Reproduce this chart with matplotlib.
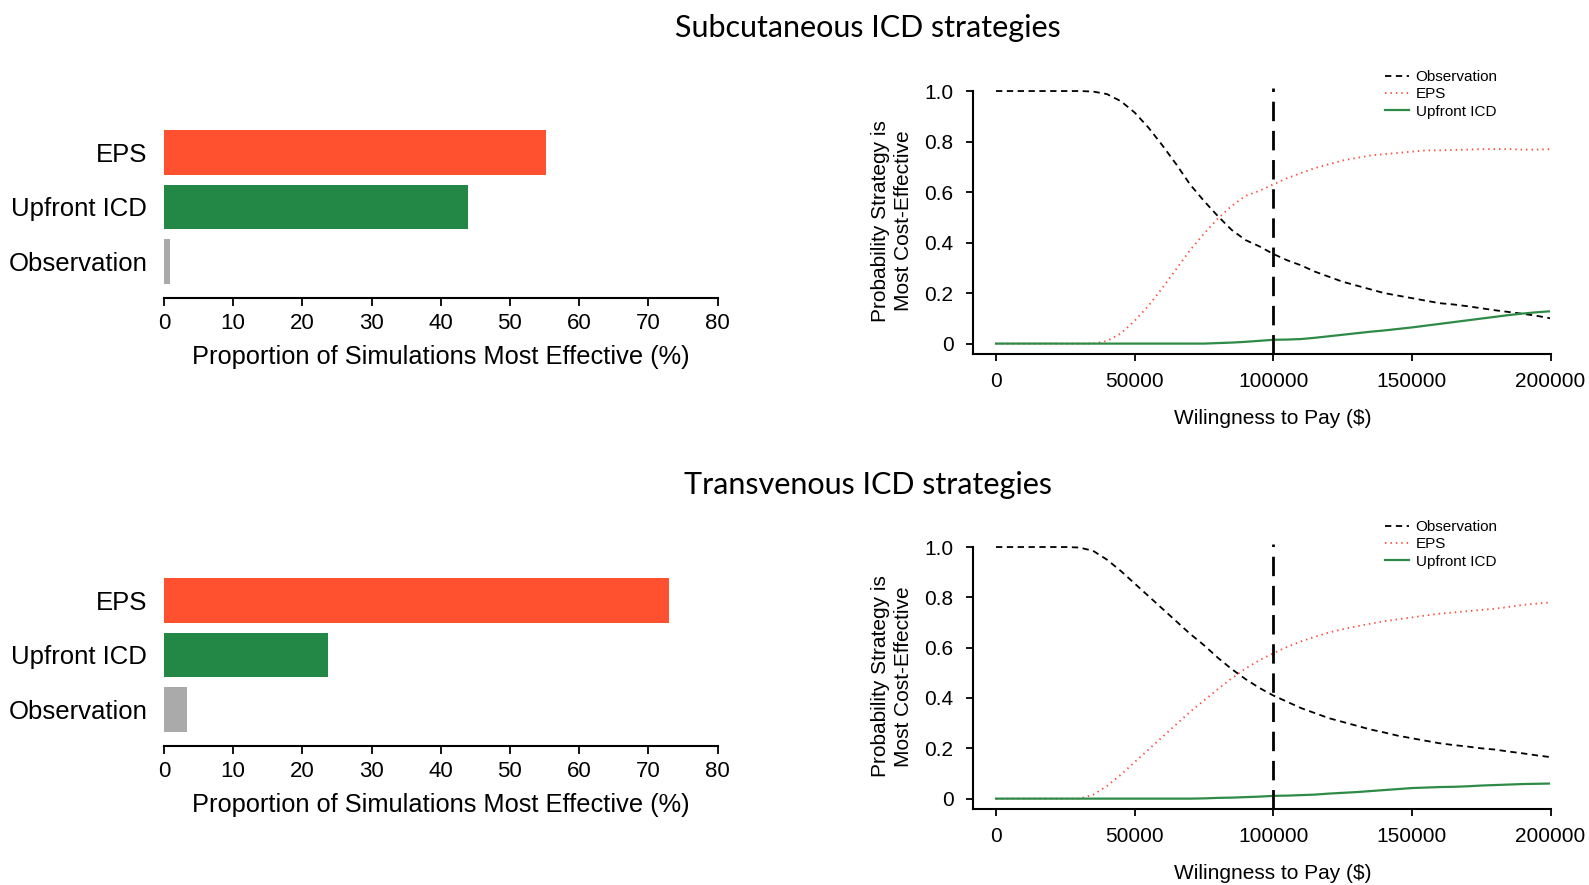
import matplotlib
matplotlib.use("Agg")
import matplotlib.pyplot as plt

W, H = 1589, 885
NARROW = ["Liberation Sans Narrow", "Liberation Sans", "DejaVu Sans"]
ARIAL = ["Liberation Sans", "DejaVu Sans"]
TITLE_FONT = ["Lato", "DejaVu Sans"]

# --- bar data: share of simulations where each strategy is most effective (%) ---
STRATEGIES = ["EPS", "Upfront ICD", "Observation"]
BAR_COLORS = ["#FF5030", "#238845", "#AAAAAA"]
SUBQ_PCT = [55.2, 43.9, 0.9]
TV_PCT = [73.0, 23.7, 3.3]

# --- acceptability curves ---
WTP = list(range(0, 200001, 5000))

SUBQ_OBS = [1.0, 1.0, 1.0, 1.0, 1.0, 1.0, 1.0, 0.998, 0.988, 0.96,
            0.915, 0.855, 0.785, 0.71, 0.63, 0.565, 0.505, 0.45, 0.41, 0.385,
            0.355, 0.33, 0.31, 0.285, 0.265, 0.245, 0.23, 0.215, 0.20, 0.19,
            0.18, 0.17, 0.16, 0.155, 0.148, 0.14, 0.132, 0.125, 0.118, 0.11,
            0.10]
SUBQ_EPS = [0, 0, 0, 0, 0, 0, 0, 0, 0.01, 0.04,
            0.09, 0.15, 0.22, 0.295, 0.37, 0.435, 0.495, 0.545, 0.585, 0.605,
            0.63, 0.655, 0.675, 0.695, 0.71, 0.725, 0.735, 0.745, 0.75, 0.755,
            0.76, 0.765, 0.765, 0.767, 0.768, 0.77, 0.77, 0.77, 0.768, 0.768,
            0.77]
SUBQ_ICD = [0, 0, 0, 0, 0, 0, 0, 0, 0, 0,
            0, 0, 0, 0, 0, 0, 0.002, 0.004, 0.007, 0.011,
            0.015, 0.016, 0.018, 0.023, 0.029, 0.035, 0.041, 0.047, 0.052, 0.058,
            0.064, 0.071, 0.078, 0.085, 0.092, 0.099, 0.106, 0.113, 0.119, 0.124,
            0.128]

TV_OBS = [1.0, 1.0, 1.0, 1.0, 1.0, 1.0, 0.998, 0.985, 0.95, 0.905,
          0.855, 0.805, 0.755, 0.705, 0.655, 0.61, 0.56, 0.515, 0.475, 0.44,
          0.41, 0.385, 0.36, 0.34, 0.32, 0.305, 0.29, 0.275, 0.263, 0.25,
          0.24, 0.23, 0.22, 0.213, 0.207, 0.20, 0.195, 0.187, 0.18, 0.172,
          0.165]
TV_EPS = [0, 0, 0, 0, 0, 0, 0, 0.015, 0.05, 0.095,
          0.145, 0.195, 0.245, 0.295, 0.345, 0.39, 0.435, 0.478, 0.517, 0.55,
          0.578, 0.603, 0.625, 0.643, 0.66, 0.673, 0.685, 0.695, 0.705, 0.713,
          0.72, 0.728, 0.735, 0.74, 0.745, 0.75, 0.755, 0.762, 0.77, 0.775,
          0.78]
TV_ICD = [0, 0, 0, 0, 0, 0, 0, 0, 0, 0,
          0, 0, 0, 0, 0, 0.001, 0.003, 0.004, 0.006, 0.008,
          0.011, 0.012, 0.014, 0.016, 0.02, 0.023, 0.026, 0.03, 0.034, 0.038,
          0.042, 0.044, 0.046, 0.047, 0.049, 0.052, 0.054, 0.056, 0.058, 0.059,
          0.06]

THRESHOLD = 100000


def px_axes(fig, left, top, right, bottom):
    return fig.add_axes([left / W, 1 - bottom / H, (right - left) / W, (bottom - top) / H])


def bar_panel(ax, values):
    ypos = [2, 1, 0]
    ax.barh(ypos, values, height=0.82, color=BAR_COLORS)
    ax.set_xlim(0, 80)
    ax.set_ylim(-0.667, 2.41)
    ax.set_xticks(range(0, 81, 10))
    ax.set_yticks(ypos)
    ax.set_yticklabels(STRATEGIES, fontsize=18.5, family=NARROW)
    for s in ["top", "right", "left"]:
        ax.spines[s].set_visible(False)
    ax.spines["bottom"].set_linewidth(1.5)
    ax.tick_params(axis="y", length=0, pad=12)
    ax.tick_params(axis="x", direction="out", length=6, width=1.3, labelsize=16, pad=4.5)
    for lab in ax.get_xticklabels():
        lab.set_family(NARROW)
    ax.set_xlabel("Proportion of Simulations Most Effective (%)", fontsize=18.3,
                  family=NARROW, labelpad=8)


def curve_panel(ax, obs, eps, icd, legend_xy):
    ax.plot(WTP, obs, color="black", lw=1.3, dashes=(3.5, 2.5), label="Observation")
    ax.plot(WTP, eps, color="#FF4B3A", lw=1.3, dashes=(0.8, 2.2), label="EPS")
    ax.plot(WTP, icd, color="#2E8B47", lw=1.6, label="Upfront ICD")
    ax.axvline(THRESHOLD, color="black", lw=2, dashes=(7, 3.5))
    ax.set_xlim(-8300, 200000)
    ax.set_ylim(-0.04, 1.012)
    ax.set_xticks([0, 50000, 100000, 150000, 200000])
    ax.set_xticklabels(["0", "50000", "100000", "150000", "200000"])
    ax.set_yticks([0, 0.2, 0.4, 0.6, 0.8, 1.0])
    ax.set_yticklabels(["0", "0.2", "0.4", "0.6", "0.8", "1.0"])
    for s in ["top", "right"]:
        ax.spines[s].set_visible(False)
    ax.spines["left"].set_bounds(-0.04, 1.0)
    ax.spines["left"].set_linewidth(1.5)
    ax.spines["bottom"].set_linewidth(1.5)
    ax.tick_params(direction="out", length=5, width=1.3, labelsize=15)
    ax.tick_params(axis="x", pad=8)
    ax.tick_params(axis="y", pad=9)
    for lab in ax.get_xticklabels() + ax.get_yticklabels():
        lab.set_family(NARROW)
    ax.set_xlabel("Wilingness to Pay ($)", fontsize=15, family=ARIAL, labelpad=13)
    # center the x label on the 0-200000 data span rather than the padded axes
    ax.xaxis.label.set_x(0.519)
    ax.set_ylabel("Probability Strategy is\nMost Cost-Effective", fontsize=15,
                  family=ARIAL, labelpad=8, linespacing=1.3)
    ax.legend(loc="upper left", bbox_to_anchor=(legend_xy[0] / W, 1 - legend_xy[1] / H),
              bbox_transform=fig.transFigure, frameon=False, borderpad=0,
              borderaxespad=0, handlelength=1.6, handletextpad=0.4,
              labelspacing=0.22, prop={"family": NARROW, "size": 11})


fig = plt.figure(figsize=(W / 100, H / 100), dpi=100)

fig.text(868 / W, 1 - 28 / H, "Subcutaneous ICD strategies", ha="center", va="center",
         fontsize=22, family=TITLE_FONT)
fig.text(868 / W, 1 - 485 / H, "Transvenous ICD strategies", ha="center", va="center",
         fontsize=22, family=TITLE_FONT)

ax1 = px_axes(fig, 164, 130, 717.5, 298)
bar_panel(ax1, SUBQ_PCT)
ax2 = px_axes(fig, 164, 578, 717.5, 746)
bar_panel(ax2, TV_PCT)

ax3 = px_axes(fig, 973, 88, 1550.5, 353.7)
curve_panel(ax3, SUBQ_OBS, SUBQ_EPS, SUBQ_ICD, (1385, 70))
ax4 = px_axes(fig, 973, 544, 1550.5, 808.7)
curve_panel(ax4, TV_OBS, TV_EPS, TV_ICD, (1385, 520))

fig.savefig("out.png", dpi=100)
